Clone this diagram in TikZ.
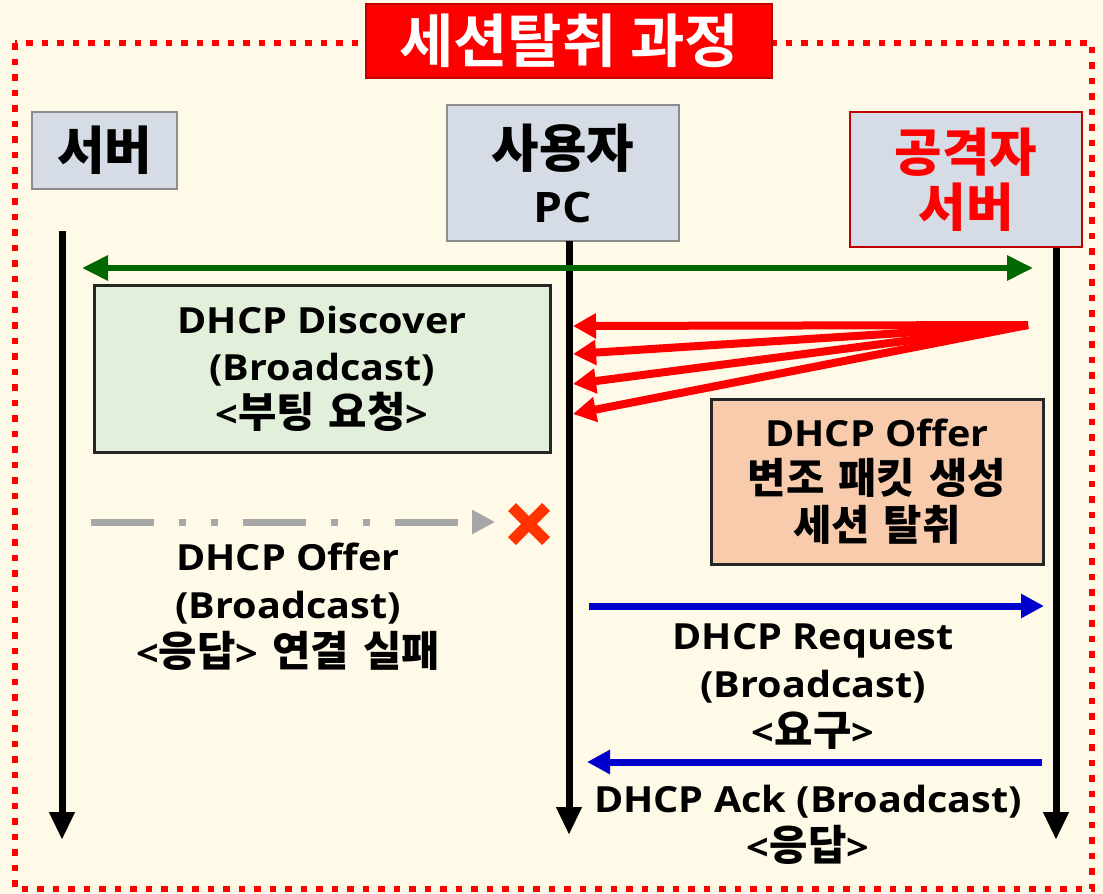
\documentclass[tikz,border=0pt]{standalone}
\usepackage{fontspec}
\setmainfont{Open Sans}[FakeStretch=1.1]
\newfontfamily\kr{Noto Sans CJK KR Bold}[Scale=1.16]
\newfontfamily\krtitle{Noto Sans CJK KR Bold}[FakeStretch=1.02]
\newcommand\hg[1]{{\kr #1}}
\newcommand\hgh[1]{{\kr\fontsize{44.5}{55}\selectfont #1}}
\newcommand\kgap{\hspace{14pt}}
\usetikzlibrary{arrows.meta}
\definecolor{bgc}{HTML}{FFF9E8}
\definecolor{hdrfill}{HTML}{D6DCE5}
\definecolor{hdrline}{HTML}{8C8C8C}
\definecolor{grnfill}{HTML}{E2EFDA}
\definecolor{orgfill}{HTML}{F8CBAD}
\definecolor{dkred}{HTML}{C00000}
\definecolor{dkgreen}{HTML}{006600}
\definecolor{bluearr}{HTML}{0000CC}
\definecolor{grayarr}{HTML}{A6A6A6}
\definecolor{xred}{HTML}{FF3300}
\tikzset{
  txt/.style={align=center, font=\bfseries\fontsize{36}{48}\selectfont, inner sep=0pt},
  hdr/.style={draw=hdrline, fill=hdrfill, line width=2pt, align=center, inner sep=0pt,
              font=\bfseries\fontsize{42}{55}\selectfont},
  box/.style={draw=black!85, line width=3pt, align=center, inner sep=0pt,
              font=\bfseries\fontsize{36}{47}\selectfont},
  life/.style={line width=7pt, -{Triangle[length=28pt,width=24pt]}},
  redarr/.style={red, line width=8pt, -{Triangle[length=23pt,width=24pt]}},
  bluearrow/.style={bluearr, line width=7pt, -{Triangle[length=23pt,width=23pt]}},
}
\begin{document}
\begin{tikzpicture}[x=1pt,y=-1pt]
\fill[bgc] (0,0) rectangle (1103,894);
\useasboundingbox (0,0) rectangle (1103,894);
% dotted frame
\draw[red, line width=6pt, dash pattern=on 6.5pt off 9pt] (15,43) rectangle (1092,889);
% title
\node[fill=red, draw=dkred, line width=2pt, minimum width=406pt, minimum height=74pt,
      inner sep=0pt, text=white, font=\krtitle\fontsize{58}{58}\selectfont] (title) at (569,41) {세션탈취 과정};
% headers
\node[hdr, minimum width=145pt, minimum height=77pt] (srv) at (104.5,150.5) {\hgh{서버}};
\node[hdr, minimum width=232pt, minimum height=136pt] (pc) at (563,173) {\hgh{사용자}\\PC};
\node[hdr, draw=dkred, text=red, minimum width=232pt, minimum height=135pt] (atk) at (966,179.5) {\hgh{공격자}\\\hgh{서버}};
% lifelines
\coordinate (l1a) at (62,231);  \coordinate (l1b) at (62,840);
\coordinate (l2a) at (569,241); \coordinate (l2b) at (569,835);
\coordinate (l3a) at (1056,248); \coordinate (l3b) at (1056,840);
\draw[life] (l1a) -- (l1b);
\draw[life] (l2a) -- (l2b);
\draw[life] (l3a) -- (l3b);
% green broadcast arrow
\coordinate (ga) at (82,268); \coordinate (gb) at (1033,268);
\draw[dkgreen, line width=6pt, {Triangle[length=26pt,width=24pt]}-{Triangle[length=26pt,width=24pt]}] (ga) -- (gb);
% discover box
\node[box, fill=grnfill, minimum width=456pt, minimum height=167pt] (disc) at (322,368.5)
  {DHCP Discover\\(Broadcast)\\<\hg{부팅\kgap 요청}>};
% red spoofed arrows
\coordinate (rs) at (1028,325);
\coordinate (r1) at (573,326);
\coordinate (r2) at (573,354);
\coordinate (r3) at (573,384);
\coordinate (r4) at (573,414);
\draw[redarr] (rs) -- (r1);
\draw[redarr] (rs) -- (r2);
\draw[redarr] (rs) -- (r3);
\draw[redarr] (rs) -- (r4);
% offer box
\node[box, fill=orgfill, minimum width=332pt, minimum height=165pt] (fake) at (877,481.5)
  {DHCP Offer\\\hg{변조\kgap 패킷\kgap 생성}\\\hg{세션\kgap 탈취}};
% failed offer
\coordinate (fa) at (91,522); \coordinate (fb) at (495,522);
\draw[grayarr, line width=7pt, dash pattern=on 63pt off 25pt on 7pt off 25pt on 7pt off 25pt,
      -{Triangle[length=23pt,width=23pt]}] (fa) -- (fb);
\coordinate (xc) at (529,524);
\draw[xred, line width=11pt] ([shift={(-17,-17)}]xc) -- ([shift={(17,17)}]xc);
\draw[xred, line width=11pt] ([shift={(-17,17)}]xc) -- ([shift={(17,-17)}]xc);
\node[txt] (offl) at (288,607) {DHCP Offer\\(Broadcast)\\<\hg{응답}>\kgap\hg{연결\kgap 실패}};
% request
\coordinate (qa) at (589,606); \coordinate (qb) at (1044,606);
\draw[bluearrow] (qa) -- (qb);
\node[txt] (reql) at (813,686) {DHCP Request\\(Broadcast)\\<\hg{요구}>};
% ack
\coordinate (aa) at (1042,762); \coordinate (ab) at (587,762);
\draw[bluearrow] (aa) -- (ab);
\node[txt] (ackl) at (808,825) {DHCP Ack (Broadcast)\\<\hg{응답}>};
\end{tikzpicture}
\end{document}
